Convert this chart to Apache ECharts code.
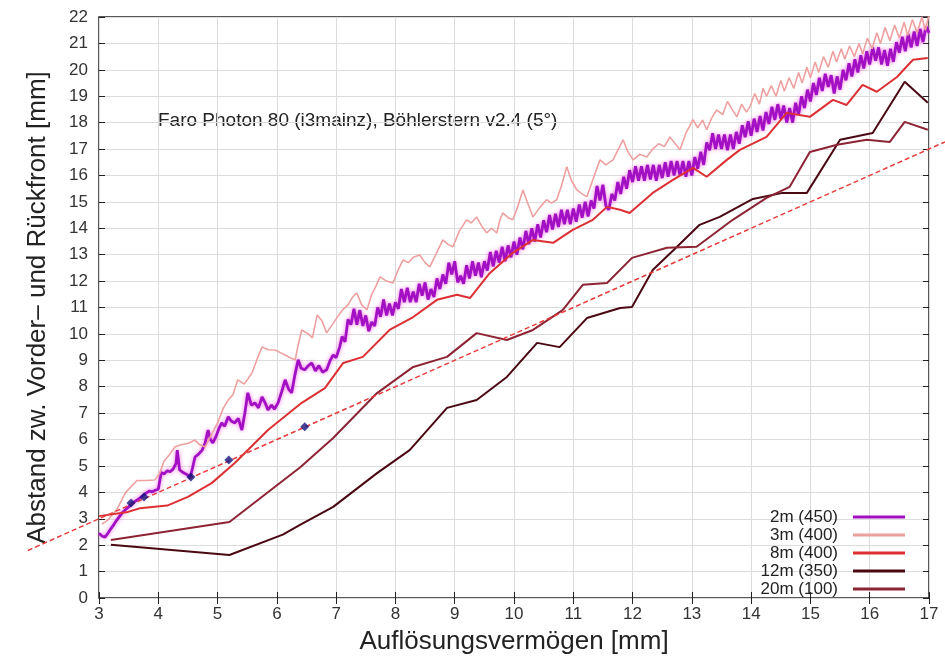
<!DOCTYPE html>
<html>
<head>
<meta charset="utf-8">
<title>Faro Photon 80 – Böhlerstern</title>
<script src="https://cdn.jsdelivr.net/npm/echarts@6/dist/echarts.min.js"></script>
<style>
    html, body { margin: 0; padding: 0; background: #fff; }
    #chart { width: 945px; height: 662px; }
</style>
</head>
<body>
<div id="chart"></div>
<script>
var seriesNames = ['2m (450)', '3m (400)', '8m (400)', '12m (350)', '20m (100)'];
var seriesColors = ['#a210c4', '#eea0a0', '#dc3034', '#4a0812', '#8c2434'];

var xTicks = [3, 17, 1];
var yTicks = [0, 22, 1];

var d2m = [
    [3.00,2.45],[3.05,2.35],[3.10,2.30],[3.15,2.45],[3.20,2.62],[3.25,2.78],[3.30,2.95],[3.35,3.10],[3.40,3.25],[3.45,3.35],
    [3.50,3.45],[3.55,3.55],[3.60,3.65],[3.65,3.72],[3.70,3.80],[3.75,3.90],[3.80,3.98],[3.85,4.05],[3.90,4.02],[3.95,4.08],
    [4.00,4.12],[4.05,4.75],[4.10,4.70],[4.15,4.82],[4.20,4.78],[4.25,4.88],[4.30,5.10],[4.32,5.60],[4.36,4.85],[4.42,4.75],
    [4.48,4.68],[4.54,4.58],[4.58,4.95],[4.62,5.34],[4.68,5.45],[4.74,5.60],[4.79,5.87],[4.84,6.36],[4.88,6.00],[4.92,5.87],
    [4.97,6.10],[5.02,6.40],[5.07,6.63],[5.12,6.50],[5.18,6.86],[5.23,6.70],[5.29,6.63],[5.35,6.80],[5.41,6.36],[5.46,7.00],
    [5.51,7.77],[5.57,7.30],[5.63,7.39],[5.69,7.20],[5.75,7.61],[5.80,7.40],[5.85,7.12],[5.91,7.30],[5.96,7.15],[6.02,7.39],
    [6.08,7.80],[6.14,8.26],[6.20,7.90],[6.25,7.77],[6.30,8.40],[6.36,9.02],[6.41,8.70],[6.47,8.64],[6.53,8.80],[6.59,8.90],
    [6.65,8.60],[6.71,8.80],[6.77,8.55],[6.84,8.64],[6.90,9.00],[6.95,9.20],[7.00,9.10],[7.06,9.51],
    [7.10,9.90],[7.15,9.70],[7.20,10.55],[7.25,10.35],[7.30,10.95],[7.35,10.35],[7.40,10.90],[7.45,10.30],[7.50,10.70],[7.55,10.10],
    [7.60,10.45],[7.65,10.30],[7.70,11.00],[7.75,10.65],[7.80,11.30],[7.85,10.70],[7.90,11.15],[7.95,10.70],[8.00,11.20],[8.05,10.95],
    [8.10,11.70],[8.15,11.20],[8.20,11.75],[8.25,11.20],[8.30,11.60],[8.35,11.20],[8.40,11.90],[8.45,11.45],[8.50,11.95],[8.55,11.30],
    [8.60,11.70],[8.65,11.40],[8.70,12.10],[8.75,11.70],[8.80,12.25],[8.85,11.90],[8.90,12.70],[8.95,12.25],[9.00,12.75],[9.05,11.95],
    [9.10,12.20],[9.15,11.90],[9.20,12.60],[9.25,12.10],[9.30,12.75],[9.35,12.20],[9.40,12.70],[9.45,12.15],[9.50,12.75],[9.55,12.40],
    [9.60,13.10],[9.65,12.55],[9.70,13.15],[9.75,12.70],[9.80,13.30],[9.85,12.75],[9.90,13.35],[9.95,12.90],[10.00,13.50],[10.05,13.00],
    [10.10,13.65],[10.15,13.20],[10.20,13.90],[10.25,13.40],[10.30,14.00],[10.35,13.50],[10.40,14.15],[10.45,13.65],[10.50,14.30],[10.55,13.85],
    [10.60,14.50],[10.65,13.95],[10.70,14.55],[10.75,14.05],[10.80,14.70],[10.85,14.15],[10.90,14.70],[10.95,14.15],[11.00,14.75],[11.05,14.25],
    [11.10,14.90],[11.15,14.40],[11.20,15.00],[11.25,14.45],[11.30,15.05],[11.35,14.75],[11.40,15.60],[11.45,15.05],[11.50,15.65],[11.55,14.85],
    [11.60,14.70],[11.65,15.30],[11.70,15.05],[11.75,15.75],[11.80,15.30],[11.85,15.95],[11.90,15.50],[11.95,16.20],[12.00,15.75],[12.05,16.35],
    [12.10,15.80],[12.15,16.35],[12.20,15.80],[12.25,16.40],[12.30,15.85],[12.35,16.40],[12.40,15.80],[12.45,16.40],[12.50,15.90],[12.55,16.50],
    [12.60,15.95],[12.65,16.55],[12.70,16.00],[12.75,16.55],[12.80,16.00],[12.85,16.55],[12.90,15.95],[12.95,16.55],[13.00,16.00],[13.05,16.70],
    [13.10,16.25],[13.15,16.90],[13.20,16.40],[13.25,17.25],[13.30,16.95],[13.35,17.60],[13.40,17.00],[13.45,17.55],[13.50,17.00],[13.55,17.55],
    [13.60,16.95],[13.65,17.55],[13.70,17.00],[13.75,17.65],[13.80,17.20],[13.85,17.90],[13.90,17.45],[13.95,18.05],[14.00,17.50],[14.05,18.15],
    [14.10,17.65],[14.15,18.25],[14.20,17.70],[14.25,18.40],[14.30,17.95],[14.35,18.60],[14.40,18.10],[14.45,18.70],[14.50,18.15],[14.55,18.65],
    [14.60,18.00],[14.65,18.55],[14.70,18.00],[14.75,18.75],[14.80,18.30],[14.85,19.00],[14.90,18.55],[14.95,19.25],[15.00,18.80],[15.05,19.50],
    [15.10,19.05],[15.15,19.70],[15.20,19.20],[15.25,19.85],[15.30,19.35],[15.35,19.80],[15.40,19.10],[15.45,19.75],[15.50,19.25],[15.55,20.00],
    [15.60,19.60],[15.65,20.25],[15.70,19.75],[15.75,20.40],[15.80,19.90],[15.85,20.55],[15.90,20.05],[15.95,20.70],[16.00,20.20],[16.05,20.85],
    [16.10,20.35],[16.15,20.85],[16.20,20.20],[16.25,20.75],[16.30,20.15],[16.35,20.80],[16.40,20.30],[16.45,21.05],[16.50,20.65],[16.55,21.25],
    [16.60,20.70],[16.65,21.35],[16.70,20.85],[16.75,21.45],[16.80,20.90],[16.85,21.55],[16.90,21.05],[16.95,21.65],[17.00,21.40]
];

var d3m = [
    [3.05,2.80],[3.15,2.95],[3.30,3.35],[3.45,4.00],[3.64,4.45],[3.80,4.45],[3.94,4.47],[4.02,4.70],[4.10,5.20],[4.18,5.40],
    [4.28,5.72],[4.38,5.80],[4.50,5.85],[4.62,5.98],[4.70,5.80],[4.79,5.72],[4.90,6.20],[5.00,6.63],[5.10,7.20],[5.18,7.50],
    [5.26,7.70],[5.34,8.26],[5.45,8.10],[5.58,8.52],[5.66,9.00],[5.75,9.51],[5.85,9.40],[5.97,9.39],[6.05,9.30],[6.14,9.20],
    [6.22,9.10],[6.31,9.02],[6.36,9.60],[6.42,10.15],[6.53,10.00],[6.60,9.85],[6.68,10.72],[6.76,10.50],[6.84,10.04],[6.95,10.40],
    [7.04,10.70],[7.11,10.91],[7.20,11.10],[7.28,11.40],[7.35,11.55],[7.43,11.10],[7.52,10.91],[7.60,11.50],[7.67,11.80],[7.74,12.16],
    [7.85,12.00],[7.96,11.93],[8.04,12.40],[8.13,12.80],[8.22,12.70],[8.30,12.90],[8.41,12.99],[8.50,12.70],[8.58,12.54],[8.68,13.00],
    [8.80,13.56],[8.88,13.40],[8.97,13.30],[9.08,13.90],[9.20,14.32],[9.28,14.20],[9.37,14.43],[9.45,14.10],[9.54,13.82],[9.62,14.00],
    [9.71,13.82],[9.76,14.30],[9.81,14.58],[9.90,14.40],[9.98,14.32],[10.06,14.80],[10.15,15.45],[10.24,14.90],[10.32,14.43],[10.44,14.80],
    [10.55,15.08],[10.63,14.95],[10.72,15.08],[10.80,15.60],[10.89,16.33],[10.97,15.80],[11.06,15.45],[11.15,15.30],[11.23,15.19],[11.34,15.90],
    [11.45,16.59],[11.55,16.40],[11.67,16.59],[11.76,17.00],[11.84,17.35],[11.92,16.90],[12.01,16.59],[12.12,16.80],[12.24,16.70],[12.34,17.00],
    [12.44,17.20],[12.54,17.10],[12.63,17.46],[12.72,17.20],[12.80,16.97],[12.90,17.60],[13.02,18.11],[13.10,17.80],[13.18,18.10],[13.25,17.73],
    [13.34,18.20],[13.42,18.48],[13.52,18.30],[13.60,18.80],[13.68,18.50],[13.76,18.22],[13.84,18.70],[13.92,18.40],[13.98,18.60],[14.06,19.10],
    [14.14,18.70],[14.20,19.30],[14.26,19.00],[14.34,19.40],[14.42,19.00],[14.50,19.60],[14.56,19.20],[14.64,19.70],[14.72,19.30],[14.80,19.90],
    [14.86,19.50],[14.94,20.10],[15.00,19.70],[15.08,20.30],[15.14,19.90],[15.22,20.50],[15.30,20.10],[15.38,20.70],[15.44,20.30],[15.52,20.80],
    [15.58,20.40],[15.66,20.90],[15.74,20.50],[15.82,21.00],[15.88,20.60],[15.96,21.20],[16.04,20.80],[16.12,21.40],[16.18,21.00],[16.26,21.60],
    [16.34,21.10],[16.42,21.70],[16.50,21.20],[16.58,21.80],[16.64,21.30],[16.72,21.90],[16.80,21.40],[16.88,22.00],[16.94,21.50],[17.00,22.10]
];

var d8m = [
    [3.00,3.10],[3.49,3.26],[3.69,3.40],[4.15,3.50],[4.50,3.83],[4.90,4.35],[5.29,5.11],[5.85,6.36],[6.42,7.39],[6.81,7.95],
    [7.12,8.90],[7.45,9.13],[7.90,10.15],[8.30,10.64],[8.70,11.29],[9.04,11.48],[9.26,11.36],[9.59,12.30],[9.98,13.07],[10.32,13.56],
    [10.66,13.45],[10.99,13.94],[11.33,14.32],[11.57,14.81],[11.79,14.70],[11.95,14.58],[12.34,15.34],[12.68,15.83],[13.02,16.29],[13.25,15.95],
    [13.59,16.59],[13.81,16.97],[14.26,17.46],[14.60,18.37],[14.99,18.22],[15.38,18.86],[15.61,18.67],[15.88,19.43],[16.12,19.17],[16.46,19.73],
    [16.73,20.38],[16.98,20.45]
];

var d12m = [
    [3.20,2.02],[5.20,1.63],[6.10,2.40],[6.39,2.77],[6.95,3.45],[7.69,4.73],[8.24,5.60],[8.87,7.20],[9.37,7.50],[9.88,8.37],
    [10.39,9.66],[10.77,9.50],[11.23,10.60],[11.79,10.98],[11.99,11.02],[12.34,12.42],[12.75,13.30],[13.13,14.13],[13.47,14.43],[14.03,15.11],
    [14.53,15.34],[14.94,15.34],[15.50,17.35],[16.05,17.61],[16.59,19.55],[16.98,18.75]
];

var d20m = [
    [3.20,2.20],[5.20,2.88],[6.40,4.96],[6.95,6.06],[7.69,7.76],[8.30,8.75],[8.87,9.13],[9.37,10.03],[9.88,9.77],[10.32,10.15],
    [10.82,10.90],[11.16,11.86],[11.57,11.93],[11.99,12.88],[12.58,13.26],[13.08,13.30],[13.69,14.32],[14.26,15.15],[14.65,15.57],[14.99,16.89],
    [15.45,17.16],[15.95,17.35],[16.34,17.27],[16.59,18.03],[16.98,17.73]
];

// 1:1 reference line (runs past the frame on both sides) and single measured points
var refLine = [[1.8, 1.8], [17.27, 17.27]];
var refRange = [1.8024, 17.27];
var marks = [[3.54, 3.60], [3.76, 3.82], [4.55, 4.58], [5.19, 5.23], [6.47, 6.48]];

var annotation = 'Faro Photon 80 (i3mainz), Böhlerstern v2.4 (5°)';
var xName = 'Auflösungsvermögen [mm]';
var yName = 'Abstand zw. Vorder– und Rückfront [mm]';

var font = '"Liberation Sans", Arial, sans-serif';
var tickStyle = { show: true, inside: true, length: 6, lineStyle: { color: '#222', width: 1 } };

var lineSeries = function (name, data, color, width, extra) {
    var s = {
        name: name,
        type: 'line',
        data: data,
        symbol: 'none',
        lineStyle: { color: color, width: width },
        itemStyle: { color: color }
    };
    if (extra) {
        for (var k in extra) s.lineStyle[k] = extra[k];
    }
    return s;
};

var hiddenAxis = function (gridIndex, min, max) {
    return {
        type: 'value', gridIndex: gridIndex, min: min, max: max, show: false,
        splitLine: { show: false }
    };
};

var getOption = function () {
    return {
        backgroundColor: '#fff',
        animation: false,
        grid: [{
            left: 99, right: 16, top: 17, bottom: 64,
            show: true, borderColor: '#222', borderWidth: 1.5
        }, {
            // same scale as the main grid, only wider, for the dashed 1:1 line
            left: 28, right: 0, top: 17, bottom: 64
        }],
        graphic: [{
            type: 'text', left: 158, top: 111,
            style: { text: annotation, font: '19px ' + font, fill: '#222' }
        }],
        legend: {
            data: seriesNames,
            orient: 'vertical',
            align: 'right',
            right: 40, bottom: 64,
            padding: 0,
            itemGap: 0,
            itemWidth: 52,
            itemHeight: 3,
            icon: 'rect',
            selectedMode: false,
            textStyle: { fontFamily: font, fontSize: 17, color: '#222', lineHeight: 18, padding: [0, 10, 0, 0] }
        },
        xAxis: [{
            type: 'value', min: xTicks[0], max: xTicks[1], interval: xTicks[2],
            name: xName, nameLocation: 'middle', nameGap: 31,
            nameTextStyle: { fontFamily: font, fontSize: 26, color: '#222' },
            axisLine: { show: false },
            axisTick: tickStyle,
            axisLabel: { fontFamily: font, fontSize: 17, color: '#333', margin: 8 },
            splitLine: { show: true, lineStyle: { color: '#dcdcdc', width: 1 } }
        }, {
            type: 'value', position: 'top', min: xTicks[0], max: xTicks[1], interval: xTicks[2],
            axisLine: { show: false }, axisTick: tickStyle,
            axisLabel: { show: false }, splitLine: { show: false }
        }, hiddenAxis(1, refRange[0], refRange[1])],
        yAxis: [{
            type: 'value', min: yTicks[0], max: yTicks[1], interval: yTicks[2],
            name: yName, nameLocation: 'middle', nameGap: 48,
            nameTextStyle: { fontFamily: font, fontSize: 26, color: '#222' },
            axisLine: { show: false },
            axisTick: tickStyle,
            axisLabel: { fontFamily: font, fontSize: 17, color: '#333', margin: 11 },
            splitLine: { show: true, lineStyle: { color: '#dcdcdc', width: 1 } }
        }, {
            type: 'value', position: 'right', min: yTicks[0], max: yTicks[1], interval: yTicks[2],
            axisLine: { show: false }, axisTick: tickStyle,
            axisLabel: { show: false }, splitLine: { show: false }
        }, hiddenAxis(1, yTicks[0], yTicks[1])],
        series: [
            lineSeries(seriesNames[0], d2m, seriesColors[0], 2.8, { shadowColor: 'rgba(240,80,220,0.8)', shadowBlur: 4 }),
            lineSeries(seriesNames[1], d3m, seriesColors[1], 1.6),
            lineSeries(seriesNames[2], d8m, seriesColors[2], 2),
            lineSeries(seriesNames[3], d12m, seriesColors[3], 2),
            lineSeries(seriesNames[4], d20m, seriesColors[4], 2),
            {
                name: 'fit', type: 'line', data: refLine, symbol: 'none', silent: true,
                xAxisIndex: 2, yAxisIndex: 2,
                lineStyle: { color: '#e83a3a', width: 1.5, type: [5, 3] }
            },
            {
                name: 'marks', type: 'scatter', data: marks, symbol: 'diamond', symbolSize: 9,
                itemStyle: { color: '#14147e' }, z: 5
            }
        ]
    };
};

var myChart = echarts.init(document.getElementById('chart'));
myChart.setOption(getOption());
window.onresize = myChart.resize;
</script>
</body>
</html>
